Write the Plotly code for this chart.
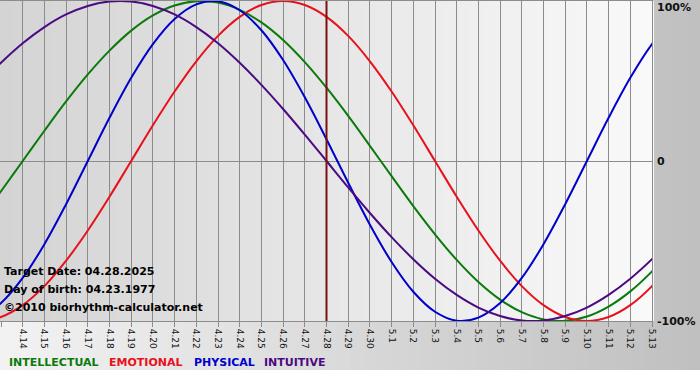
import plotly.graph_objects as go

# Day labels (index 0 = 4.12 ... index 32 = 5.14); visible range is 4.13 .. 5.13
day_labels = ["4.12", "4.13", "4.14", "4.15", "4.16", "4.17", "4.18", "4.19", "4.20", "4.21",
              "4.22", "4.23", "4.24", "4.25", "4.26", "4.27", "4.28", "4.29", "4.30",
              "5.1", "5.2", "5.3", "5.4", "5.5", "5.6", "5.7", "5.8", "5.9", "5.10",
              "5.11", "5.12", "5.13", "5.14"]

physical = [-0.979, -0.888, -0.731, -0.520, -0.270, 0.000, 0.270, 0.520, 0.731, 0.888, 0.979,
            0.998, 0.942, 0.817, 0.631, 0.398, 0.136, -0.136, -0.398, -0.631, -0.817, -0.942,
            -0.998, -0.979, -0.888, -0.731, -0.520, -0.270, 0.000, 0.270, 0.520, 0.731, 0.888]

emotional = [-1.000, -0.975, -0.901, -0.782, -0.623, -0.434, -0.223, 0.000, 0.223, 0.434, 0.623,
             0.782, 0.901, 0.975, 1.000, 0.975, 0.901, 0.782, 0.623, 0.434, 0.223, 0.000,
             -0.223, -0.434, -0.623, -0.782, -0.901, -0.975, -1.000, -0.975, -0.901, -0.782, -0.623]

intellectual = [-0.372, -0.189, 0.000, 0.189, 0.372, 0.541, 0.690, 0.815, 0.910, 0.972, 0.999,
                0.990, 0.945, 0.866, 0.756, 0.618, 0.458, 0.282, 0.095, -0.095, -0.282, -0.458,
                -0.618, -0.756, -0.866, -0.945, -0.990, -0.999, -0.972, -0.910, -0.815, -0.690, -0.541]

intuitive = [0.476, 0.614, 0.736, 0.837, 0.916, 0.969, 0.997, 0.997, 0.969, 0.916, 0.837,
             0.736, 0.614, 0.476, 0.325, 0.165, 0.000, -0.165, -0.325, -0.476, -0.614, -0.736,
             -0.837, -0.916, -0.969, -0.997, -0.997, -0.969, -0.916, -0.837, -0.736, -0.614, -0.476]

target_label = "4.28"
info_lines = ["Target Date: 04.28.2025", "Day of birth: 04.23.1977", "©2010 biorhythm-calculator.net"]
legend_items = [("INTELLECTUAL", "#0b7a0b"), ("EMOTIONAL", "#e8101a"),
                ("PHYSICAL", "#0000cc"), ("INTUITIVE", "#4b0a82")]
y_labels = ["100%", "0", "-100%"]

x = list(range(len(day_labels)))
tick_idx = x[1:-1]
tick_txt = day_labels[1:-1]
target_x = day_labels.index(target_label)

fig = go.Figure()
series = [(intellectual, "#0b7a0b"), (emotional, "#e8101a"),
          (physical, "#0000cc"), (intuitive, "#4b0a82")]
for vals, col in series:
    fig.add_trace(go.Scatter(x=x, y=vals, mode="lines",
                             line=dict(color=col, width=2, shape="spline", smoothing=1.0),
                             hoverinfo="skip", showlegend=False))

W, H = 700, 380
ml, mr, mt, mb = 0, 48, 1, 59
pw, ph = W - ml - mr, H - mt - mb

def lerp(a, b, t):
    return int(round(a + (b - a) * t))

shapes = []
n = 50
x1_out = W / pw
y_bot = (H - mb - 370) / ph
y_top = (H - mb + mt) / ph
for i in range(n):
    t = i / (n - 1)
    v = lerp(242, 192, t)
    shapes.append(dict(type="rect", xref="paper", yref="paper", layer="below",
                       x0=x1_out * i / n, x1=x1_out * (i + 1) / n + 0.003,
                       y0=y_bot, y1=y_top, line=dict(width=0),
                       fillcolor=f"rgb({v},{v},{v})"))
for i in range(n):
    t = i / (n - 1)
    v = lerp(212, 249, t)
    shapes.append(dict(type="rect", xref="paper", yref="paper", layer="below",
                       x0=i / n, x1=(i + 1) / n + 0.003, y0=0, y1=1, line=dict(width=0),
                       fillcolor=f"rgb({v},{v},{v})"))
shapes.append(dict(type="line", xref="x", yref="paper", x0=target_x, x1=target_x, y0=0, y1=1,
                   line=dict(color="#7a1010", width=2), layer="above"))
fig.update_layout(shapes=shapes)

annotations = []
for txt, ypx in zip(info_lines, [271, 289, 307]):
    annotations.append(dict(text=f"<b>{txt}</b>", xref="paper", yref="paper", x=0.003,
                            y=(H - mb - ypx) / ph, xanchor="left", yanchor="middle",
                            showarrow=False, font=dict(family="DejaVu Sans", size=11, color="black")))
for txt, ypx in zip(y_labels, [8, 161, 321]):
    annotations.append(dict(text=f"<b>{txt}</b>", xref="paper", yref="paper", x=655 / pw,
                            y=(H - mb - ypx) / ph, xanchor="left", yanchor="middle",
                            showarrow=False, font=dict(family="DejaVu Sans", size=11, color="#111")))
leg_x = [7, 107, 192, 262]
for (txt, col), lx in zip(legend_items, leg_x):
    annotations.append(dict(text=f"<b>{txt}</b>", xref="paper", yref="paper", x=lx / pw,
                            y=(H - mb - 362) / ph, xanchor="left", yanchor="middle",
                            showarrow=False, font=dict(family="DejaVu Sans", size=11, color=col)))
fig.update_layout(annotations=annotations)

fig.update_layout(
    width=W, height=H, autosize=False,
    margin=dict(l=ml, r=mr, t=mt, b=mb, pad=0),
    paper_bgcolor="white", plot_bgcolor="rgba(0,0,0,0)",
    xaxis=dict(range=[0.954, 31.0], tickvals=tick_idx, ticktext=tick_txt, tickangle=90,
               showgrid=True, gridcolor="#8c8c8c", gridwidth=1, automargin=False,
               ticks="outside", ticklen=5, tickcolor="#8c8c8c",
               showline=True, linecolor="#8c8c8c", linewidth=1, mirror=True,
               tickfont=dict(family="DejaVu Sans", size=9, color="#111"), zeroline=False),
    yaxis=dict(range=[-1.0, 1.0], showgrid=False, showticklabels=False, ticks="",
               automargin=False,
               zeroline=True, zerolinecolor="#8c8c8c", zerolinewidth=1,
               showline=True, linecolor="#8c8c8c", linewidth=1, mirror=True),
)

fig.write_html("out.html", config={"displayModeBar": False, "staticPlot": True},
               post_script="document.body.style.margin='0';document.body.style.overflow='hidden';")
